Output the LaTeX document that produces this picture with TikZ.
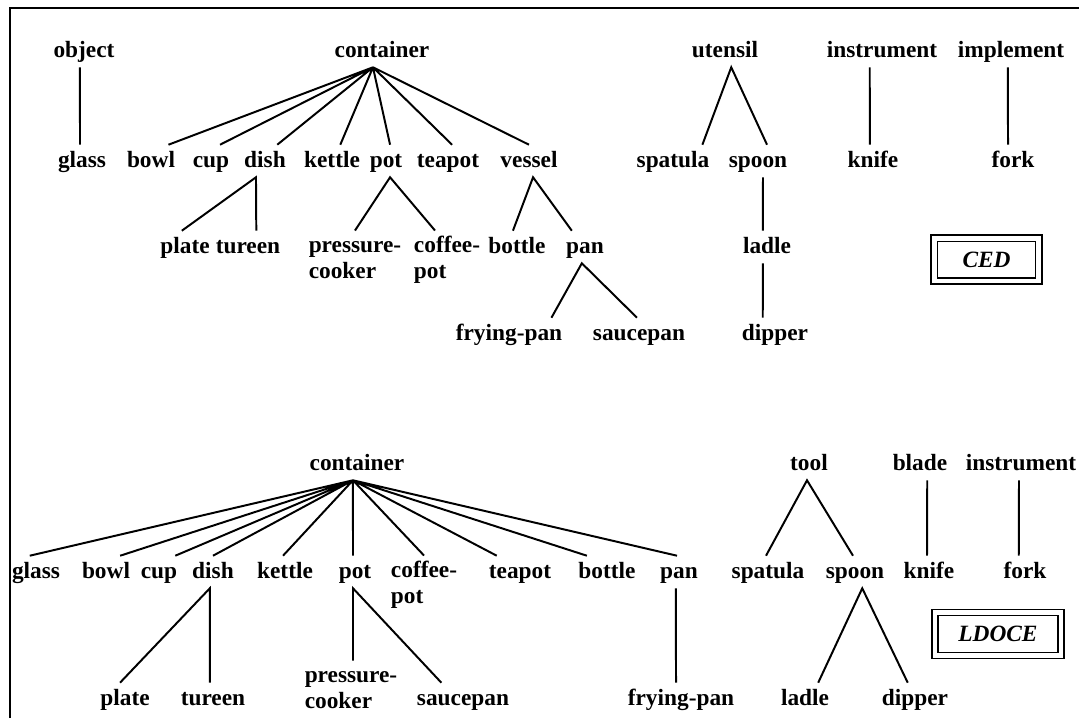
\documentclass[tikz,border=0pt]{standalone}
\usepackage{fontspec}
\setmainfont{Liberation Serif}

\tikzset{
    word/.style={font=\fontsize{16.6}{18}\selectfont\bfseries, inner xsep=0pt, inner ysep=0.15cm, text height=0.4cm, text depth=0.1cm, anchor=base},
    twoline/.style={word, align=left, text height=1.03cm},
    branch/.style={line width=1.4pt},
    frame/.style={line width=1.5pt},
    source/.style={draw, double, double distance=0.12cm, line width=1pt, font=\fontsize{16.6}{18}\selectfont\bfseries\itshape, minimum height=1.07cm},
}

\begin{document}
\begin{tikzpicture}[x=0.025cm, y=-0.025cm]
                \useasboundingbox (0,0) rectangle (1079,718);
                \draw[frame] (10,718) -- (10,8) -- (1079,8);
                \begin{scope}
                    \node[word] (o1) at (84,57) {object};
                    \node[word] (c1) at (382,57) {container};
                    \node[word] (u1) at (725,57) {utensil};
                    \node[word] (in1) at (882,57) {instrument};
                    \node[word] (im1) at (1011,57) {implement};
                    \node[word] (gl1) at (82,167) {glass};
                    \node[word] (bw1) at (151,167) {bowl};
                    \node[word] (cu1) at (211,167) {cup};
                    \node[word] (di1) at (265,167) {dish};
                    \node[word] (ke1) at (332,167) {kettle};
                    \node[word] (po1) at (386,167) {pot};
                    \node[word] (te1) at (448,167) {teapot};
                    \node[word] (ve1) at (529,167) {vessel};
                    \node[word] (sp1) at (673,167) {spatula};
                    \node[word] (so1) at (758,167) {spoon};
                    \node[word] (kn1) at (873,167) {knife};
                    \node[word] (fo1) at (1013,167) {fork};
                    \node[word] (pl1) at (185,253) {plate};
                    \node[word] (tu1) at (248,253) {tureen};
                    \node[twoline] (pc1) at (355,278) {pressure-\\cooker};
                    \node[twoline] (cp1) at (447,278) {coffee-\\pot};
                    \node[word] (bo1) at (517,253) {bottle};
                    \node[word] (pa1) at (585,253) {pan};
                    \node[word] (la1) at (767,253) {ladle};
                    \node[word] (fp1) at (509,340) {frying-pan};
                    \node[word] (sa1) at (639,340) {saucepan};
                    \node[word] (dp1) at (775,340) {dipper};
                    \node[source, minimum width=2.61cm] (ced) at (986.5,259.5) {CED};
                    \draw[branch] (o1.256) -- (gl1.97);
                    \draw[branch] (c1.241) -- (bw1.43) (c1.241) -- (cu1.61) (c1.241) -- (di1.53) (c1.241) -- (ke1.63)
                        (c1.241) -- (po1.76) (c1.241) -- (te1.76) (c1.241) -- (ve1.north);
                    \draw[branch] (pl1.101) -- (di1.241) -- (tu1.63);
                    \draw[branch] (pc1.north) -- (po1.284) -- ([xshift=-0.3cm]cp1.north);
                    \draw[branch] (bo1.104) -- (ve1.284) -- (pa1.129);
                    \draw[branch] (fp1.21) -- (pa1.259) -- (sa1.97);
                    \draw[branch] (sp1.29) -- (u1.291) -- (so1.61);
                    \draw[branch] (so1.287) -- (la1.104) (la1.256) -- (dp1.127);
                    \draw[branch] (in1.233) -- (kn1.101);
                    \draw[branch] (im1.259) -- (fo1.107);
                \end{scope}
                \begin{scope}
                    \node[word] (c2) at (357,470) {container};
                    \node[word] (t2) at (809,470) {tool};
                    \node[word] (b2) at (920,470) {blade};
                    \node[word] (in2) at (1021,470) {instrument};
                    \node[word] (gl2) at (36,578) {glass};
                    \node[word] (bw2) at (106,578) {bowl};
                    \node[word] (cu2) at (159,578) {cup};
                    \node[word] (di2) at (213,578) {dish};
                    \node[word] (ke2) at (285,578) {kettle};
                    \node[word] (po2) at (355,578) {pot};
                    \node[twoline] (cp2) at (424,603) {coffee-\\pot};
                    \node[word] (te2) at (520,578) {teapot};
                    \node[word] (bo2) at (607,578) {bottle};
                    \node[word] (pa2) at (679,578) {pan};
                    \node[word] (sp2) at (768,578) {spatula};
                    \node[word] (so2) at (855,578) {spoon};
                    \node[word] (kn2) at (929,578) {knife};
                    \node[word] (fo2) at (1025,578) {fork};
                    \node[word] (pl2) at (125,705) {plate};
                    \node[word] (tu2) at (213,705) {tureen};
                    \node[twoline] (pc2) at (351,708) {pressure-\\cooker};
                    \node[word] (sa2) at (463,705) {saucepan};
                    \node[word] (fp2) at (681,705) {frying-pan};
                    \node[word] (la2) at (805,705) {ladle};
                    \node[word] (dp2) at (915,705) {dipper};
                    \node[source, minimum width=3.15cm] (ldoce) at (998,634) {LDOCE};
                    \draw[branch] (c2.256) -- (gl2.111) (c2.256) -- (bw2.49) (c2.256) -- (cu2.45) (c2.256) -- (di2.north)
                        (c2.256) -- (ke2.97) (c2.256) -- (po2.97) (c2.256) -- (cp2.north) (c2.256) -- (te2.145)
                        (c2.256) -- (bo2.141) (c2.256) -- (pa2.97);
                    \draw[branch] (pl2.107) -- (di2.259) -- (tu2.101);
                    \draw[branch] ([xshift=0.05cm]pc2.north) -- (po2.263) -- (sa2.143);
                    \draw[branch] (pa2.259) -- (fp2.107);
                    \draw[branch] (sp2.97) -- (t2.263) -- (so2.97);
                    \draw[branch] (la2.51) -- (so2.294) -- (dp2.114);
                    \draw[branch] (b2.294) -- (kn2.97);
                    \draw[branch] (in2.263) -- (fo2.111);
                \end{scope}
            \end{tikzpicture}
\end{document}
